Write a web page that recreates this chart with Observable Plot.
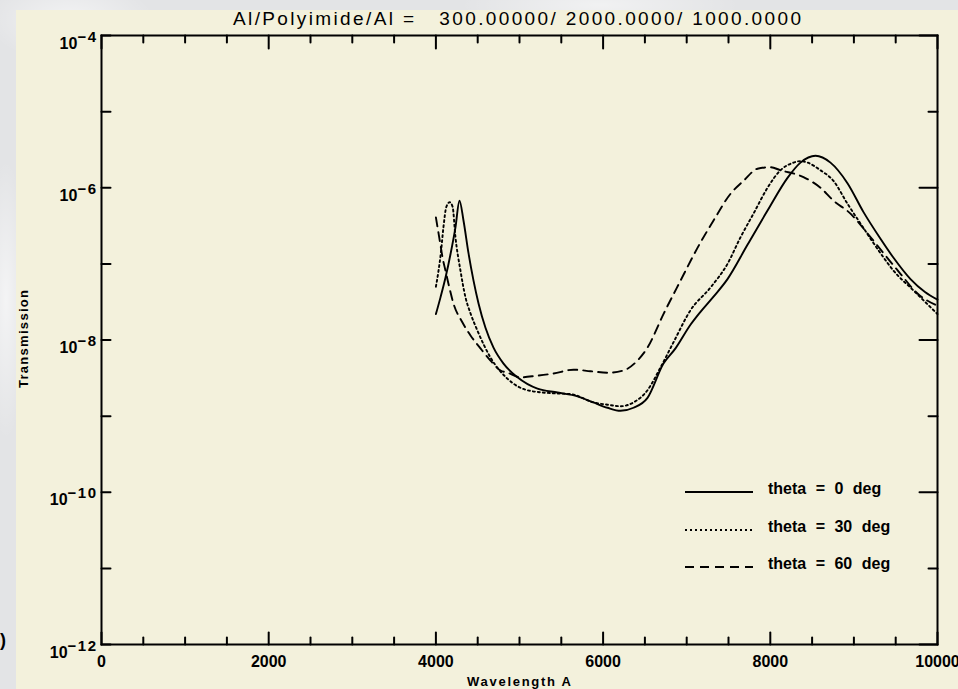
<!DOCTYPE html>
<html>
<head>
<meta charset="utf-8">
<script src="https://cdn.jsdelivr.net/npm/d3@7"></script>
<script src="https://cdn.jsdelivr.net/npm/@observablehq/plot@0.6"></script>
<style>
  body { margin: 0; }
  #page {
    position: relative; width: 958px; height: 689px; overflow: hidden;
    background:
      radial-gradient(ellipse 120px 60px at 70px 20px, rgba(255,255,255,0.55), rgba(255,255,255,0) 70%),
      radial-gradient(ellipse 200px 40px at 600px 5px, rgba(255,255,255,0.5), rgba(255,255,255,0) 70%),
      radial-gradient(ellipse 30px 200px at 6px 300px, rgba(255,255,255,0.6), rgba(255,255,255,0) 70%),
      #e3e4e6;
    font-family: "Liberation Sans", Arial, sans-serif;
  }
  #panel { position: absolute; left: 16px; top: 10px; right: 0; bottom: 0; background: #f3f1dc; }
  #chart { position: absolute; left: 0; top: 0; }
  #overlay { position: absolute; left: 0; top: 0; pointer-events: none; }
</style>
</head>
<body>
<div id="page">
  <div id="panel"></div>
  <div id="chart"></div>
  <svg id="overlay" width="958" height="689"></svg>
</div>
<script>
// ---------- data ----------
const titleText = "Al/Polyimide/Al =   300.00000/ 2000.0000/ 1000.0000";
const xTitle = "Wavelength A";
const yTitle = "Transmission";

const seriesNames = ["theta = 0 deg", "theta = 30 deg", "theta = 60 deg"];
const seriesDash = ["none", "2,3", "9,6"];

// theta = 0 deg : wavelength (A) and log10(transmission)
const wave0 = [4000, 4055, 4115, 4175, 4234, 4282, 4330, 4390, 4450, 4510, 4593, 4689, 4809, 4976, 5215, 5455, 5694, 5885, 6053, 6208, 6364, 6531, 6722, 6866, 7045, 7165, 7321, 7488, 7727, 7967, 8206, 8361, 8541, 8720, 8923, 9115, 9318, 9474, 9677, 9850, 10000];
const logT0 = [-7.66, -7.44, -7.18, -6.87, -6.52, -6.17, -6.43, -6.86, -7.22, -7.52, -7.84, -8.10, -8.31, -8.49, -8.64, -8.69, -8.74, -8.82, -8.89, -8.93, -8.89, -8.76, -8.31, -8.11, -7.80, -7.63, -7.43, -7.20, -6.75, -6.30, -5.87, -5.67, -5.58, -5.67, -5.94, -6.32, -6.67, -6.92, -7.20, -7.37, -7.47];

// theta = 30 deg
const wave30 = [4000, 4030, 4060, 4090, 4125, 4165, 4200, 4234, 4294, 4354, 4414, 4498, 4653, 4857, 5096, 5400, 5610, 5885, 6053, 6208, 6364, 6531, 6687, 6842, 7045, 7285, 7488, 7644, 7799, 7967, 8122, 8278, 8360, 8445, 8600, 8756, 8923, 9079, 9318, 9474, 9713, 10000];
const logT30 = [-7.30, -7.10, -6.85, -6.52, -6.25, -6.19, -6.25, -6.65, -7.09, -7.44, -7.65, -7.88, -8.23, -8.51, -8.66, -8.70, -8.71, -8.82, -8.85, -8.87, -8.82, -8.66, -8.36, -8.03, -7.61, -7.31, -7.00, -6.65, -6.34, -6.00, -5.77, -5.67, -5.65, -5.67, -5.77, -5.91, -6.21, -6.47, -6.86, -7.09, -7.35, -7.66];

// theta = 60 deg
const wave60 = [4000, 4050, 4080, 4115, 4150, 4210, 4318, 4414, 4533, 4653, 4773, 4857, 5012, 5200, 5407, 5646, 5850, 6053, 6244, 6411, 6531, 6722, 6926, 7129, 7321, 7524, 7679, 7847, 8002, 8122, 8397, 8600, 8756, 8959, 9163, 9354, 9557, 9761, 10000];
const logT60 = [-6.39, -6.72, -6.92, -7.09, -7.26, -7.52, -7.77, -7.94, -8.11, -8.27, -8.40, -8.43, -8.49, -8.47, -8.44, -8.39, -8.41, -8.43, -8.40, -8.27, -8.10, -7.66, -7.22, -6.79, -6.43, -6.08, -5.91, -5.75, -5.73, -5.77, -5.86, -6.00, -6.17, -6.34, -6.60, -6.86, -7.13, -7.39, -7.55];

// axes
const xDomain = [0, 10000];
const yDomain = [1e-12, 1e-4];
const xMajorTicks = [0, 2000, 4000, 6000, 8000, 10000];
const xMinorTicks = [500, 1000, 1500, 2500, 3000, 3500, 4500, 5000, 5500, 6500, 7000, 7500, 8500, 9000, 9500];
const yDecades = [-12, -11, -10, -9, -8, -7, -6, -5, -4];
const yLabelDecades = [-12, -10, -8, -6, -4];

// ---------- build ----------
const waves = [wave0, wave30, wave60];
const logs = [logT0, logT30, logT60];
const rows = seriesNames.flatMap((name, s) =>
  waves[s].map((w, i) => ({series: name, w, t: Math.pow(10, logs[s][i])}))
);

const tickShape = {draw(ctx, l) { ctx.moveTo(0, 0); ctx.lineTo(0, -l); }};
const ink = "#000";
const yMajor = yDecades.filter(d => d % 2 === 0).map(d => Math.pow(10, d));
const yMinor = yDecades.filter(d => d % 2 !== 0).map(d => Math.pow(10, d));
const yAll = yDecades.map(d => Math.pow(10, d));

const chart = Plot.plot({
  width: 958,
  height: 689,
  marginTop: 35,
  marginBottom: 45,
  marginLeft: 101,
  marginRight: 21,
  style: {background: "transparent", fontFamily: "'Liberation Sans', Arial, sans-serif", color: ink},
  x: {domain: xDomain, axis: null},
  y: {type: "log", domain: yDomain, axis: null},
  marks: [
    // tick marks (inward)
    Plot.vector(xMajorTicks, {x: d => d, y: yDomain[0], length: 12, rotate: 0, anchor: "start", shape: tickShape, stroke: ink, strokeWidth: 2}),
    Plot.vector(xMinorTicks, {x: d => d, y: yDomain[0], length: 7, rotate: 0, anchor: "start", shape: tickShape, stroke: ink, strokeWidth: 2}),
    Plot.vector(xMajorTicks, {x: d => d, y: yDomain[1], length: 13, rotate: 180, anchor: "start", shape: tickShape, stroke: ink, strokeWidth: 2}),
    Plot.vector(xMinorTicks, {x: d => d, y: yDomain[1], length: 7, rotate: 180, anchor: "start", shape: tickShape, stroke: ink, strokeWidth: 2}),
    Plot.vector(yAll, {x: xDomain[0], y: d => d, length: 9, rotate: 90, anchor: "start", shape: tickShape, stroke: ink, strokeWidth: 2}),
    Plot.vector(yMajor, {x: xDomain[1], y: d => d, length: 18, rotate: 270, anchor: "start", shape: tickShape, stroke: ink, strokeWidth: 2}),
    Plot.vector(yMinor, {x: xDomain[1], y: d => d, length: 9, rotate: 270, anchor: "start", shape: tickShape, stroke: ink, strokeWidth: 2}),
    // tick labels
    Plot.axisX(xMajorTicks, {tickSize: 0, tickPadding: 11, tickFormat: d => String(d), label: null, fontSize: 16, fontWeight: "bold", fill: ink}),
    Plot.axisY(yLabelDecades.map(d => Math.pow(10, d)), {tickSize: 0, tickPadding: 4, tickFormat: d => "10^" + Math.round(Math.log10(d)), label: null, fontSize: 16, fontWeight: "bold", fill: ink}),
    // curves
    ...seriesNames.map((name, s) =>
      Plot.line(rows.filter(r => r.series === name), {
        x: "w", y: "t", stroke: ink, strokeWidth: 1.9,
        strokeDasharray: seriesDash[s] === "none" ? null : seriesDash[s],
        curve: "monotone-x"
      })
    ),
    Plot.frame({stroke: ink, strokeWidth: 2})
  ]
});
document.getElementById("chart").appendChild(chart);

// superscript exponents on the y tick labels
d3.select(chart).selectAll('g[aria-label="y-axis tick label"] text').each(function () {
  const t = d3.select(this);
  const exp = t.text().split("^")[1].replace("-", "\u2212");
  t.text(null).attr("dy", "0.5em");
  t.append("tspan").text("10");
  t.append("tspan").attr("dy", -7).attr("font-size", 15).attr("letter-spacing", 1.5).text(exp);
});

// titles and legend
const ov = d3.select("#overlay")
  .attr("font-family", "'Liberation Sans', Arial, sans-serif").attr("fill", ink);
ov.append("text").attr("x", 517).attr("y", 25).attr("text-anchor", "middle")
  .attr("font-size", 19).attr("textLength", 568).attr("lengthAdjust", "spacing")
  .style("white-space", "pre").text(titleText);
ov.append("text").attr("x", 519).attr("y", 686).attr("text-anchor", "middle")
  .attr("font-size", 13).attr("font-weight", "bold").attr("textLength", 104).attr("lengthAdjust", "spacing")
  .text(xTitle);
ov.append("text").attr("transform", "translate(28,339) rotate(-90)").attr("text-anchor", "middle")
  .attr("font-size", 13).attr("font-weight", "bold").attr("textLength", 98).attr("lengthAdjust", "spacing")
  .text(yTitle);
ov.append("text").attr("x", 0).attr("y", 646).attr("font-size", 18).attr("font-weight", "bold").text(")");

const legendRowY = [492, 530, 567];
seriesNames.forEach((name, s) => {
  ov.append("line").attr("x1", 685).attr("x2", 753).attr("y1", legendRowY[s]).attr("y2", legendRowY[s])
    .attr("stroke", ink).attr("stroke-width", 2)
    .attr("stroke-dasharray", seriesDash[s] === "none" ? null : seriesDash[s]);
  ov.append("text").attr("x", 768).attr("y", legendRowY[s] + 2)
    .attr("font-size", 16).attr("font-weight", "bold").attr("word-spacing", 5)
    .text(name);
});
</script>
</body>
</html>
